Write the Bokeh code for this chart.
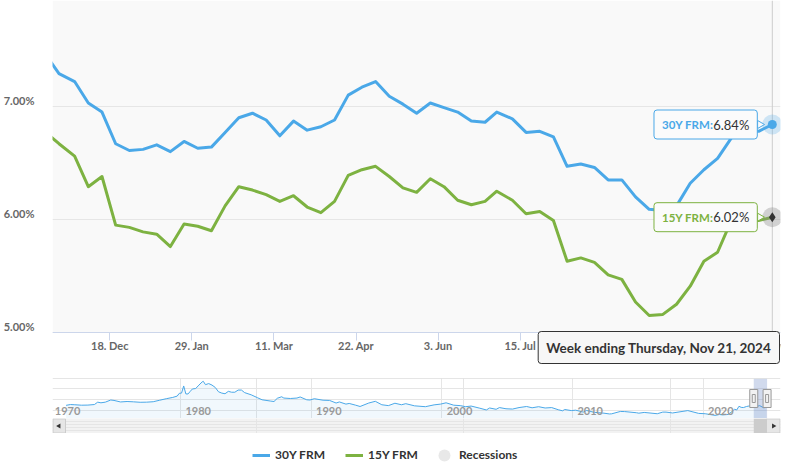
import pandas as pd
from math import pi
from bokeh.plotting import figure
from bokeh.layouts import column
from bokeh.models import (Range1d, FixedTicker, Label, Legend, LegendItem, Grid, Span, BoxAnnotation)
from bokeh.embed import file_html
from bokeh.resources import INLINE
from bokeh.core.properties import value

# ---------------- data ----------------
week_dates = ["2023-11-16", "2023-11-22", "2023-11-30", "2023-12-07", "2023-12-14", "2023-12-21", "2023-12-28",
              "2024-01-04", "2024-01-11", "2024-01-18", "2024-01-25",
              "2024-02-01", "2024-02-08", "2024-02-15", "2024-02-22", "2024-02-29",
              "2024-03-07", "2024-03-14", "2024-03-21", "2024-03-28",
              "2024-04-04", "2024-04-11", "2024-04-18", "2024-04-25",
              "2024-05-02", "2024-05-09", "2024-05-16", "2024-05-23", "2024-05-30",
              "2024-06-06", "2024-06-13", "2024-06-20", "2024-06-27",
              "2024-07-03", "2024-07-11", "2024-07-18", "2024-07-25",
              "2024-08-01", "2024-08-08", "2024-08-15", "2024-08-22", "2024-08-29",
              "2024-09-05", "2024-09-12", "2024-09-19", "2024-09-26",
              "2024-10-03", "2024-10-10", "2024-10-17", "2024-10-24", "2024-10-31",
              "2024-11-07", "2024-11-14", "2024-11-21"]
frm30 = [7.44, 7.29, 7.22, 7.03, 6.95, 6.67, 6.61,
         6.62, 6.66, 6.60, 6.69,
         6.63, 6.64, 6.77, 6.90, 6.94,
         6.88, 6.74, 6.87, 6.79,
         6.82, 6.88, 7.10, 7.17,
         7.22, 7.09, 7.02, 6.94, 7.03,
         6.99, 6.95, 6.87, 6.86,
         6.95, 6.89, 6.77, 6.78,
         6.73, 6.47, 6.49, 6.46, 6.35,
         6.35, 6.20, 6.09, 6.08,
         6.12, 6.32, 6.44, 6.54, 6.72,
         6.79, 6.78, 6.84]
frm15 = [6.76, 6.67, 6.56, 6.29, 6.38, 5.95, 5.93,
         5.89, 5.87, 5.76, 5.96,
         5.94, 5.90, 6.12, 6.29, 6.26,
         6.22, 6.16, 6.21, 6.11,
         6.06, 6.16, 6.39, 6.44,
         6.47, 6.38, 6.28, 6.24, 6.36,
         6.29, 6.17, 6.13, 6.16,
         6.25, 6.17, 6.05, 6.07,
         5.99, 5.63, 5.66, 5.62, 5.51,
         5.47, 5.27, 5.15, 5.16,
         5.25, 5.41, 5.63, 5.71, 5.99,
         6.00, 5.99, 6.02]

x_tick_dates = ["2023-12-18", "2024-01-29", "2024-03-11", "2024-04-22", "2024-06-03",
                "2024-07-15", "2024-08-26", "2024-10-07", "2024-11-18"]
x_tick_labels = ["18. Dec", "29. Jan", "11. Mar", "22. Apr", "3. Jun", "15. Jul", "26. Aug", "7. Oct", "18. Nov"]
y_ticks = [5.0, 6.0, 7.0]
y_tick_labels = ["5.00%", "6.00%", "7.00%"]

nav_dates = ["1971-04", "1971-08", "1971-12", "1972-06", "1972-12", "1973-06", "1973-09", "1973-12",
             "1974-04", "1974-09", "1974-12", "1975-06", "1975-12", "1976-06", "1976-12", "1977-06",
             "1977-12", "1978-06", "1978-12", "1979-06", "1979-10", "1979-12", "1980-02", "1980-04",
             "1980-06", "1980-08", "1980-10", "1980-12", "1981-03", "1981-06", "1981-09", "1981-10",
             "1981-12", "1982-03", "1982-06", "1982-09", "1982-12", "1983-03", "1983-06", "1983-09",
             "1983-12", "1984-03", "1984-06", "1984-09", "1984-12", "1985-06", "1985-12", "1986-04",
             "1986-12", "1987-03", "1987-06", "1987-10", "1987-12", "1988-06", "1988-12", "1989-03",
             "1989-09", "1989-12", "1990-04", "1990-12", "1991-06", "1991-12", "1992-03", "1992-09",
             "1992-12", "1993-06", "1993-10", "1994-06", "1994-12", "1995-06", "1995-12", "1996-06",
             "1996-12", "1997-04", "1997-12", "1998-10", "1999-06", "1999-12", "2000-05", "2000-12",
             "2001-06", "2001-11", "2002-04", "2002-12", "2003-06", "2003-09", "2004-03", "2004-06",
             "2004-12", "2005-06", "2005-12", "2006-07", "2006-12", "2007-06", "2007-12", "2008-06",
             "2008-12", "2009-04", "2009-06", "2009-12", "2010-04", "2010-11", "2011-02", "2011-09",
             "2012-06", "2012-11", "2013-01", "2013-09", "2014-01", "2014-12", "2015-02", "2015-07",
             "2016-07", "2016-12", "2017-03", "2017-09", "2018-11", "2019-09", "2020-03", "2020-12",
             "2021-01", "2021-04", "2021-07", "2021-12", "2022-03", "2022-06", "2022-08", "2022-10",
             "2022-12", "2023-02", "2023-05", "2023-08", "2023-10", "2023-11", "2024-02", "2024-05",
             "2024-09", "2024-11"]
nav_frm30 = [7.33, 7.7, 7.6, 7.4, 7.45, 7.7, 8.8, 8.5,
             8.8, 9.8, 9.6, 8.9, 9.1, 8.95, 8.75, 8.8,
             9.0, 9.7, 10.4, 11.0, 11.6, 12.9, 13.0, 16.3,
             12.6, 12.6, 13.8, 14.9, 15.1, 16.7, 18.2, 18.45,
             16.9, 17.4, 16.7, 15.6, 13.6, 13.0, 12.7, 13.8,
             13.4, 13.4, 14.4, 14.4, 13.2, 12.2, 10.8, 9.9,
             9.3, 9.1, 10.6, 11.3, 10.7, 10.5, 10.7, 11.2,
             9.9, 9.8, 10.4, 9.7, 9.6, 8.4, 8.9, 7.9,
             8.2, 7.4, 6.8, 8.4, 9.2, 7.6, 7.2, 8.3,
             7.6, 8.1, 7.1, 6.7, 7.55, 7.9, 8.5, 7.4,
             7.2, 6.7, 7.0, 6.0, 5.2, 6.1, 5.5, 6.3,
             5.75, 5.6, 6.3, 6.8, 6.2, 6.7, 6.1, 6.3,
             5.3, 4.8, 5.4, 4.9, 5.1, 4.2, 4.95, 4.1,
             3.7, 3.35, 3.4, 4.5, 4.45, 3.9, 3.7, 4.05,
             3.44, 4.2, 4.2, 3.8, 4.9, 3.6, 3.45, 2.7,
             2.74, 3.1, 2.9, 3.1, 4.2, 5.5, 5.2, 6.9,
             6.4, 6.3, 6.8, 7.1, 7.7, 7.4, 6.8, 7.2,
             6.1, 6.84]
nav_decades = ["1970", "1980", "1990", "2000", "2010", "2020"]

series_names = ["30Y FRM", "15Y FRM", "Recessions"]

# ---------------- style ----------------
C30 = "#4aa8e8"
C15 = "#7db241"
FONT = "Lato"
DAY = 86400000.0
YEAR = 365.2425 * DAY


def ms(s):
    return pd.Timestamp(s).value / 1e6


wk_ms = [ms(d) for d in week_dates]
tick_ms = [ms(d) for d in x_tick_dates]
nav_ms = [ms(d) for d in nav_dates]
dec_ms = [ms(d + "-01-01") for d in nav_decades]

# ---------------- main chart ----------------
W = 796
L, R = 52, 780
H_MAIN = 372
PLOT_BOTTOM = 332          # pixel row of the 5.00% axis line
px_day = 1.9543
x0 = ms("2023-12-18") - (109.3 - L) / px_day * DAY
x1 = x0 + (R - L) / px_day * DAY
y_axis_min, y_top = 5.0, 7.937
px_unit = PLOT_BOTTOM / (y_top - y_axis_min)
y_low = y_axis_min - (H_MAIN - PLOT_BOTTOM) / px_unit   # room for the x axis inside the frame
lift = 6.0 / px_unit

p = figure(width=W, height=H_MAIN, x_range=Range1d(x0, x1), y_range=Range1d(y_low, y_top),
           output_backend="svg", toolbar_location=None, title=None,
           min_border_left=L, min_border_right=W - R, min_border_top=0, min_border_bottom=0)
p.background_fill_color = "white"
p.border_fill_color = "white"
p.outline_line_color = None
p.add_layout(BoxAnnotation(bottom=y_axis_min, fill_color="#f9f9f9", fill_alpha=1.0,
                           line_color=None, level="image"))

p.xaxis.fixed_location = y_axis_min
p.xaxis.ticker = FixedTicker(ticks=tick_ms)
p.xaxis.major_label_overrides = {t: s for t, s in zip(tick_ms, x_tick_labels)}
p.xaxis.axis_line_color = "#ccd6eb"
p.xaxis.major_tick_line_color = "#ccd6eb"
p.xaxis.major_tick_out = 8
p.xaxis.major_tick_in = 0
p.xaxis.minor_tick_line_color = None
p.xaxis.major_label_standoff = -2
p.xaxis.major_label_text_font = FONT
p.xaxis.major_label_text_font_style = "bold"
p.xaxis.major_label_text_font_size = "11px"
p.xaxis.major_label_text_color = "#666666"

ylab_ticks = [v + lift for v in y_ticks]
p.yaxis.ticker = FixedTicker(ticks=ylab_ticks)
p.yaxis.major_label_overrides = {t: s for t, s in zip(ylab_ticks, y_tick_labels)}
p.yaxis.axis_line_color = None
p.yaxis.major_tick_line_color = None
p.yaxis.minor_tick_line_color = None
p.yaxis.major_label_standoff = 12
p.yaxis.major_label_text_font = FONT
p.yaxis.major_label_text_font_style = "bold"
p.yaxis.major_label_text_font_size = "11px"
p.yaxis.major_label_text_color = "#666666"
p.xgrid.visible = False
p.ygrid.ticker = FixedTicker(ticks=y_ticks)
p.ygrid.grid_line_color = "#e6e6e6"

# crosshair at the hovered week
p.segment(x0=[wk_ms[-1]], y0=[y_axis_min], x1=[wk_ms[-1]], y1=[y_top], line_color="#cccccc", line_width=1)

p.line(wk_ms, frm30, line_color=C30, line_width=3, line_join="round")
p.line(wk_ms, frm15, line_color=C15, line_width=3, line_join="round")

# hover markers on last point
p.scatter([wk_ms[-1]], [frm30[-1]], size=20, marker="circle", fill_color=C30, fill_alpha=0.25, line_color=None)
p.scatter([wk_ms[-1]], [frm30[-1]], size=9, marker="circle", fill_color=C30, line_color=None)
p.scatter([wk_ms[-1]], [frm15[-1]], size=20, marker="circle", fill_color="#888888", fill_alpha=0.35, line_color=None)
p.scatter([wk_ms[-1]], [frm15[-1]], size=10, marker="diamond", fill_color="#333333", line_color=None)

# tooltips (box + callout pointer + two-part text)
callout_x = wk_ms[-1] - 12.4 / px_day * DAY
for name, vals, col in [(series_names[0], frm30, C30), (series_names[1], frm15, C15)]:
    val_txt = "%.2f%%" % vals[-1]
    p.scatter([callout_x], [vals[-1]], marker="triangle", angle=-pi / 2, size=8,
              fill_color="#fbfbfb", line_color=col, line_width=1)
    p.add_layout(Label(x=wk_ms[-1], y=vals[-1], x_offset=-15, anchor="center_right",
                       text=name + ":", text_font=FONT, text_font_style="bold", text_font_size="11.5px",
                       text_color=col, background_fill_color="#fbfbfb", border_line_color=col,
                       border_line_width=1, border_radius=3,
                       padding=dict(left=8, right=44, top=8, bottom=8)))
    p.add_layout(Label(x=wk_ms[-1], y=vals[-1], x_offset=-23, anchor="center_right",
                       text=val_txt, text_font=FONT, text_font_size="13px", text_color="#333333"))

last = pd.Timestamp(week_dates[-1])
p.add_layout(Label(x=x1, y=y_axis_min, x_offset=-1, y_offset=1, anchor="top_right",
                   text="Week ending %s, %s %d, %d" % (last.strftime("%A"), last.strftime("%b"), last.day, last.year),
                   text_font=FONT, text_font_style="bold", text_font_size="13.5px", text_color="#333333",
                   background_fill_color="#f7f7f7", border_line_color="#333333", border_line_width=1,
                   border_radius=3, padding=8))

# ---------------- navigator ----------------
NL, NR = L, R
nav_px_year = 13.065
nx0 = ms("1970-01-01") + (NL - 49.3) / nav_px_year * YEAR
nx1 = nx0 + (NR - NL) / nav_px_year * YEAR
ny0, ny1 = 1.24, 19.75


def nav_x(px):
    return nx0 + (px - NL) / (NR - NL) * (nx1 - nx0)


nav_xr = Range1d(nx0, nx1)
nav = figure(width=W, height=46, x_range=nav_xr, y_range=Range1d(ny0, ny1),
             x_axis_location=None, y_axis_location=None, output_backend="svg", toolbar_location=None,
             title=None, min_border_left=NL, min_border_right=W - NR, min_border_top=6, min_border_bottom=0)
nav.background_fill_color = "white"
nav.outline_line_color = None
nav.add_layout(Grid(dimension=0, ticker=FixedTicker(ticks=dec_ms), grid_line_color="#e6e6e6"))
nav.add_layout(Span(location=ny1, dimension="width", line_color="#cccccc", line_width=1))
nav.varea(x=nav_ms, y1=ny0, y2=nav_frm30, fill_color=C30, fill_alpha=0.08)
nav.line(nav_ms, nav_frm30, line_color=C30, line_width=1)
nav.text(x=dec_ms, y=[ny0] * len(dec_ms), text=nav_decades, x_offset=5, y_offset=-4,
         text_baseline="bottom", text_font=value(FONT), text_font_style="bold", text_font_size="11px",
         text_color="#999999")
nav.quad(left=[x0], right=[x1], bottom=[ny0], top=[ny1], fill_color="#6685c2", fill_alpha=0.3, line_color=None)
hy = (ny0 + ny1) / 2
nav.rect(x=[x0, x1], y=[hy, hy], width=8, height=18, width_units="screen", height_units="screen",
         fill_color="#f2f2f2", line_color="#999999")
nav.rect(x=[x0, x1], y=[hy, hy], width=3, height=8, width_units="screen", height_units="screen",
         fill_alpha=0, line_color="#999999")

# ---------------- scrollbar ----------------
sb = figure(width=W, height=15, x_range=nav_xr, y_range=Range1d(0, 1),
            x_axis_location=None, y_axis_location=None, output_backend="svg", toolbar_location=None,
            title=None, min_border_left=NL, min_border_right=W - NR, min_border_top=0, min_border_bottom=0)
sb.background_fill_color = "#f2f2f2"
sb.outline_line_color = None
sb.quad(left=[x0], right=[x1], bottom=[0], top=[1], fill_color="#cccccc", line_color=None)
sb.quad(left=[nav_x(NL + 0.5), nav_x(766)], right=[nav_x(65), nav_x(NR - 0.5)], bottom=[0.03, 0.03],
        top=[0.97, 0.97], fill_color="#e6e6e6", line_color="#cccccc")
sb.scatter(x=[nav_x(58.5), nav_x(773)], y=[0.5, 0.5], marker="triangle", angle=[pi / 2, -pi / 2],
           size=5, fill_color="#333333", line_color=None)

# ---------------- legend ----------------
lg = figure(width=W, height=41, x_range=Range1d(0, 1), y_range=Range1d(0, 1),
            x_axis_location=None, y_axis_location=None, output_backend="svg", toolbar_location=None,
            title=None, min_border_left=L, min_border_right=W - R, min_border_top=0, min_border_bottom=0)
lg.outline_line_color = None
lg.xgrid.visible = False
lg.ygrid.visible = False
# legend proxies (kept outside the visible range)
r1 = lg.line(x=[-10, -9], y=[-10, -9], line_color=C30, line_width=3)
r2 = lg.line(x=[-10, -9], y=[-10, -9], line_color=C15, line_width=3)
r3 = lg.scatter(x=[-10], y=[-10], marker="circle", fill_color="#e8e8e8", line_color=None)
common = dict(orientation="horizontal", padding=0, margin=0, border_line_color=None,
              background_fill_alpha=0, label_text_font=FONT, label_text_font_style="bold",
              label_text_font_size="12px", label_text_color="#333333")
leg1 = Legend(items=[LegendItem(label=series_names[0], renderers=[r1]),
                     LegendItem(label=series_names[1], renderers=[r2])],
              location=(252 - L, 11.5), glyph_width=18, glyph_height=16, label_height=16,
              label_standoff=5, spacing=20, **common)
leg2 = Legend(items=[LegendItem(label=series_names[2], renderers=[r3])],
              location=(429 - L, 4.5), glyph_width=30, glyph_height=30, label_height=16,
              label_standoff=0, spacing=0, **common)
lg.add_layout(leg1)
lg.add_layout(leg2)

layout = column(p, nav, sb, lg, spacing=0)
open("out.html", "w").write(file_html(layout, INLINE))
